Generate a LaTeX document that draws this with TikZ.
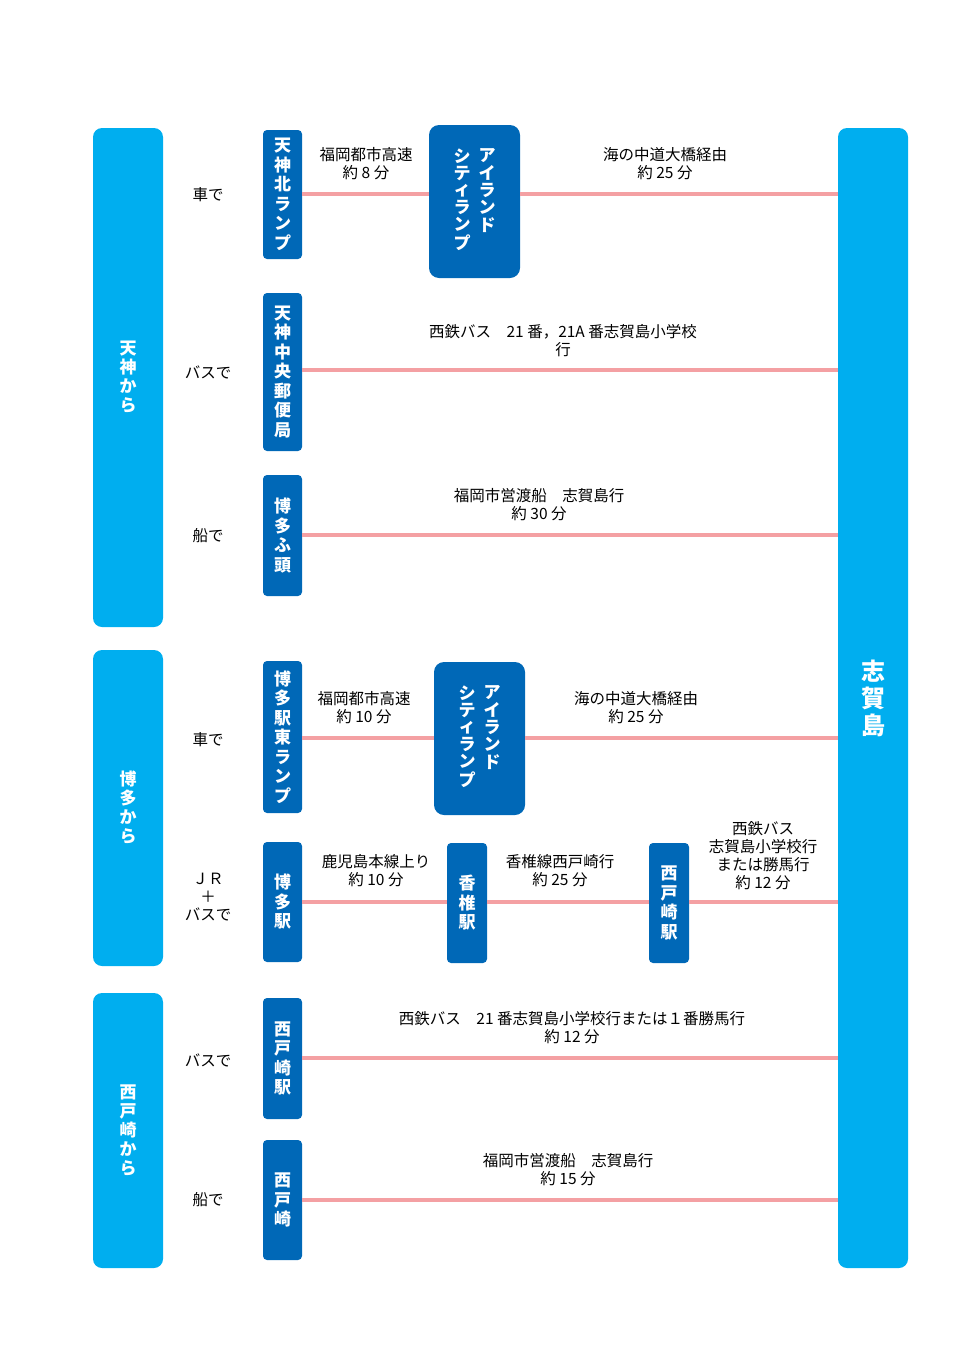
\documentclass[tikz,border=0pt]{standalone}
\usepackage{fontspec}
\setmainfont{Noto Sans CJK JP}
\usetikzlibrary{positioning}
\definecolor{lblue}{HTML}{00AEEF}
\definecolor{dblue}{HTML}{0068B7}
\definecolor{pinkline}{HTML}{F4A0A3}
\begin{document}
\begin{tikzpicture}[x=1pt,y=-1pt,
	areabox/.style={fill=lblue, rounded corners=9pt, text=white, font=\fontsize{17}{19}\selectfont\bfseries, align=center},
	stopbox/.style={fill=dblue, rounded corners=4pt, text=white, font=\fontsize{17}{19.5}\selectfont\bfseries, align=center, inner sep=0pt},
	route/.style={draw=pinkline, line width=4.5pt},
	lbl/.style={font=\fontsize{15.5}{18}\selectfont, align=center},
	]
	\useasboundingbox (0,0) rectangle (960,1357);
	% areas
	\node[areabox, minimum width=70pt, minimum height=499pt] (tenjin) at (128,377.5) {天\\神\\か\\ら};
	\node[areabox, minimum width=70pt, minimum height=316pt] (hakata) at (128,808) {博\\多\\か\\ら};
	\node[areabox, minimum width=70pt, minimum height=275pt] (saito) at (128,1130.5) {西\\戸\\崎\\か\\ら};
	\node[areabox, minimum width=70pt, minimum height=1140pt, font=\fontsize{24}{27}\selectfont\bfseries] (shika) at (873,698) {志\\賀\\島};
	% means
	\node[lbl] at (208,195) {車で};
	\node[lbl] at (208,372) {バスで};
	\node[lbl] at (208,536) {船で};
	\node[lbl] at (208,740) {車で};
	\node[lbl] at (208,897) {ＪＲ\\＋\\バスで};
	\node[lbl] at (208,1060) {バスで};
	\node[lbl] at (208,1200) {船で};
	% stops
	\node[stopbox, minimum width=39pt, minimum height=129pt] (tkramp) at (282.5,194.5) {天\\神\\北\\ラ\\ン\\プ};
	\node[stopbox, rounded corners=10pt, minimum width=91pt, minimum height=153pt] (ic1) at (474.5,201.5)
		{\begin{tabular}{@{}c@{\hspace{8pt}}c@{}}\shortstack{シ\\テ\\ィ\\ラ\\ン\\プ} & \shortstack{ア\\イ\\ラ\\ン\\ド\\\strut}\end{tabular}};
	\node[stopbox, minimum width=39pt, minimum height=158pt] (tcpo) at (282.5,372) {天\\神\\中\\央\\郵\\便\\局};
	\node[stopbox, minimum width=39pt, minimum height=121pt] (futo) at (282.5,535.5) {博\\多\\ふ\\頭};
	\node[stopbox, minimum width=39pt, minimum height=152pt] (hkramp) at (282.5,737) {博\\多\\駅\\東\\ラ\\ン\\プ};
	\node[stopbox, rounded corners=10pt, minimum width=91pt, minimum height=153pt] (ic2) at (479.5,738.5)
		{\begin{tabular}{@{}c@{\hspace{8pt}}c@{}}\shortstack{シ\\テ\\ィ\\ラ\\ン\\プ} & \shortstack{ア\\イ\\ラ\\ン\\ド\\\strut}\end{tabular}};
	\node[stopbox, minimum width=39pt, minimum height=120pt] (hkst) at (282.5,902) {博\\多\\駅};
	\node[stopbox, minimum width=40pt, minimum height=120pt] (kashii) at (467,903) {香\\椎\\駅};
	\node[stopbox, minimum width=40pt, minimum height=120pt] (saist) at (669,903) {西\\戸\\崎\\駅};
	\node[stopbox, minimum width=39pt, minimum height=121pt] (saist2) at (282.5,1058.5) {西\\戸\\崎\\駅};
	\node[stopbox, minimum width=39pt, minimum height=120pt] (saiport) at (282.5,1200) {西\\戸\\崎};
	% routes
	\draw[route] (tkramp.east |- 0,194) -- (ic1.west |- 0,194);
	\draw[route] (ic1.east |- 0,194) -- (shika.west |- 0,194);
	\draw[route] (tcpo.east |- 0,370) -- (shika.west |- 0,370);
	\draw[route] (futo.east |- 0,535) -- (shika.west |- 0,535);
	\draw[route] (hkramp.east |- 0,738) -- (ic2.west |- 0,738);
	\draw[route] (ic2.east |- 0,738) -- (shika.west |- 0,738);
	\draw[route] (hkst.east |- 0,902) -- (kashii.west |- 0,902);
	\draw[route] (kashii.east |- 0,902) -- (saist.west |- 0,902);
	\draw[route] (saist.east |- 0,902) -- (shika.west |- 0,902);
	\draw[route] (saist2.east |- 0,1058) -- (shika.west |- 0,1058);
	\draw[route] (saiport.east |- 0,1200) -- (shika.west |- 0,1200);
	% route labels
	\node[lbl] at (366,164) {福岡都市高速\\約 8 分};
	\node[lbl] at (665,164) {海の中道大橋経由\\約 25 分};
	\node[lbl] at (563,341) {西鉄バス\quad 21 番，21A 番志賀島小学校\\行};
	\node[lbl] at (539,505) {福岡市営渡船\quad 志賀島行\\約 30 分};
	\node[lbl] at (364,708) {福岡都市高速\\約 10 分};
	\node[lbl] at (636,708) {海の中道大橋経由\\約 25 分};
	\node[lbl] at (376,871) {鹿児島本線上り\\約 10 分};
	\node[lbl] at (560,871) {香椎線西戸崎行\\約 25 分};
	\node[lbl] at (763,856) {西鉄バス\\志賀島小学校行\\または勝馬行\\約 12 分};
	\node[lbl] at (572,1028) {西鉄バス\quad 21 番志賀島小学校行または１番勝馬行\\約 12 分};
	\node[lbl] at (568,1170) {福岡市営渡船\quad 志賀島行\\約 15 分};
\end{tikzpicture}
\end{document}
